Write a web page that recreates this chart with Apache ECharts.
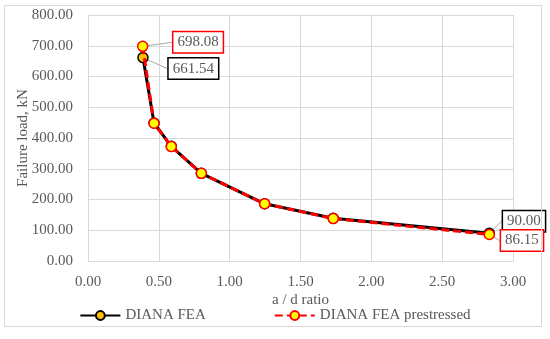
<!DOCTYPE html>
<html><head><meta charset="utf-8">
<script src="https://cdn.jsdelivr.net/npm/echarts@6/dist/echarts.min.js"></script>
<style>html,body{margin:0;padding:0;background:#fff}#c{width:550px;height:339px}
#frame{position:absolute;left:4px;top:5px;width:538px;height:322px;border:1px solid #d9d9d9;box-sizing:border-box;pointer-events:none}</style>
</head><body><div id="c"></div><div id="frame"></div>
<script>
const adRatio = [0.388, 0.466, 0.588, 0.80, 1.247, 1.731, 2.833];
const dianaFEA = [661.54, 448.8, 373, 285, 186, 139, 90.00];
const adRatioPre = [0.386, 0.466, 0.588, 0.80, 1.247, 1.731, 2.833];
const dianaFEAPre = [698.08, 448.0, 372, 285, 186, 138, 86.15];
const labelledBlack = {0: [15, 11], 6: [3, -12]};
const labelledRed = {0: [20, -4], 6: [1, 6]};
const xTicks = {min: 0, max: 3, interval: 0.5};
const yTicks = {min: 0, max: 800, interval: 100};

const font = 'Liberation Serif';
const grey = '#595959';

function buildData(xs, ys, labelled, border) {
  return xs.map((x, i) => {
    const item = {value: [x, ys[i]]};
    if (labelled[i]) {
      item.label = {
        show: true, position: 'right', distance: 5,
        formatter: ys[i].toFixed(2),
        fontFamily: font, fontSize: 15, color: grey,
        backgroundColor: '#fff', borderColor: border, borderWidth: 1.5,
        padding: [3, 4, 2, 4]
      };
      item.labelLine = {show: true, lineStyle: {color: '#a6a6a6', width: 1}};
    }
    return item;
  });
}

const chart = echarts.init(document.getElementById('c'));
chart.setOption({
  animation: false,
  grid: {left: 88, right: 37, top: 15, bottom: 78},
  xAxis: {
    type: 'value', min: xTicks.min, max: xTicks.max, interval: xTicks.interval,
    name: 'a / d ratio', nameLocation: 'middle', nameGap: 32, nameMoveOverlap: false,
    nameTextStyle: {fontFamily: font, fontSize: 15, color: grey},
    axisLine: {show: true, lineStyle: {color: '#d9d9d9', width: 1}},
    axisTick: {show: false},
    axisLabel: {fontFamily: font, fontSize: 15, color: grey, margin: 14, formatter: v => v.toFixed(2)},
    splitLine: {show: true, lineStyle: {color: '#d9d9d9', width: 1}}
  },
  yAxis: {
    type: 'value', min: yTicks.min, max: yTicks.max, interval: yTicks.interval,
    name: 'Failure load, kN', nameLocation: 'middle', nameGap: 57, nameMoveOverlap: false,
    nameTextStyle: {fontFamily: font, fontSize: 15, color: grey},
    axisLine: {show: false}, axisTick: {show: false},
    axisLabel: {fontFamily: font, fontSize: 15, color: grey, margin: 15, formatter: v => v.toFixed(2)},
    splitLine: {show: true, lineStyle: {color: '#d9d9d9', width: 1}}
  },
  legend: {
    bottom: 11, left: 'center', itemGap: 68, itemWidth: 40, itemHeight: 11,
    textStyle: {fontFamily: font, fontSize: 15, color: grey},
    data: ['DIANA FEA', 'DIANA FEA prestressed']
  },
  series: [
    {
      name: 'DIANA FEA', type: 'line', symbol: 'circle', symbolSize: 10,
      lineStyle: {color: '#000', width: 3},
      itemStyle: {color: '#FFC000', borderColor: '#000', borderWidth: 1.5},
      data: buildData(adRatio, dianaFEA, labelledBlack, '#000'),
      labelLayout: p => { const d = labelledBlack[p.dataIndex]; return d ? {dx: d[0], dy: d[1]} : {}; },
      z: 2
    },
    {
      name: 'DIANA FEA prestressed', type: 'line', symbol: 'circle', symbolSize: 10,
      lineStyle: {color: '#FF0000', width: 3, type: [8, 4]},
      itemStyle: {color: '#FFFF00', borderColor: '#FF0000', borderWidth: 1.5},
      data: buildData(adRatioPre, dianaFEAPre, labelledRed, '#FF0000'),
      labelLayout: p => { const d = labelledRed[p.dataIndex]; return d ? {dx: d[0], dy: d[1]} : {}; },
      z: 3
    }
  ]
});
</script></body></html>
